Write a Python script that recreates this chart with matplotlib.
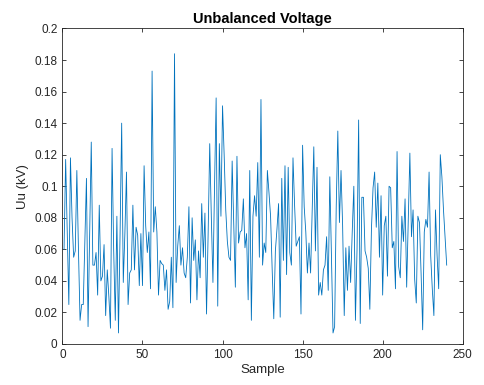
import numpy as np
import matplotlib
matplotlib.use("Agg")
import matplotlib.pyplot as plt

plt.rcParams['font.family'] = ['Liberation Sans', 'DejaVu Sans']

# Unbalanced voltage per sample (kV)
uu = [
    0.060, 0.117, 0.070, 0.025, 0.118, 0.080, 0.055, 0.059, 0.110, 0.060,
    0.015, 0.025, 0.025, 0.065, 0.105, 0.011, 0.070, 0.128, 0.050, 0.050,
    0.058, 0.031, 0.088, 0.040, 0.043, 0.063, 0.018, 0.047, 0.030, 0.010,
    0.124, 0.060, 0.015, 0.081, 0.007, 0.070, 0.140, 0.039, 0.070, 0.109,
    0.025, 0.045, 0.047, 0.088, 0.047, 0.074, 0.069, 0.037, 0.070, 0.037,
    0.113, 0.075, 0.058, 0.071, 0.035, 0.173, 0.071, 0.087, 0.071, 0.031,
    0.053, 0.051, 0.050, 0.034, 0.047, 0.022, 0.027, 0.055, 0.023, 0.184,
    0.039, 0.062, 0.075, 0.050, 0.061, 0.045, 0.042, 0.055, 0.087, 0.026,
    0.080, 0.053, 0.066, 0.028, 0.059, 0.042, 0.089, 0.055, 0.083, 0.019,
    0.070, 0.127, 0.080, 0.039, 0.100, 0.156, 0.024, 0.127, 0.081, 0.151,
    0.120, 0.085, 0.065, 0.055, 0.053, 0.116, 0.075, 0.036, 0.119, 0.064,
    0.071, 0.072, 0.092, 0.061, 0.070, 0.028, 0.110, 0.015, 0.081, 0.094,
    0.081, 0.115, 0.055, 0.155, 0.050, 0.064, 0.058, 0.110, 0.096, 0.081,
    0.047, 0.016, 0.059, 0.073, 0.089, 0.017, 0.105, 0.053, 0.113, 0.044,
    0.112, 0.058, 0.050, 0.118, 0.088, 0.062, 0.065, 0.068, 0.019, 0.126,
    0.087, 0.071, 0.045, 0.064, 0.045, 0.086, 0.125, 0.059, 0.112, 0.031,
    0.039, 0.031, 0.047, 0.050, 0.068, 0.034, 0.106, 0.058, 0.007, 0.011,
    0.087, 0.135, 0.077, 0.110, 0.075, 0.018, 0.061, 0.034, 0.062, 0.039,
    0.071, 0.100, 0.015, 0.060, 0.142, 0.013, 0.093, 0.093, 0.059, 0.055,
    0.048, 0.022, 0.073, 0.099, 0.109, 0.074, 0.102, 0.055, 0.094, 0.031,
    0.075, 0.081, 0.043, 0.100, 0.099, 0.061, 0.065, 0.035, 0.122, 0.049,
    0.042, 0.081, 0.065, 0.092, 0.036, 0.080, 0.121, 0.068, 0.085, 0.041,
    0.026, 0.081, 0.077, 0.045, 0.009, 0.071, 0.079, 0.074, 0.109, 0.056,
    0.035, 0.018, 0.085, 0.056, 0.035, 0.120, 0.106, 0.085, 0.068, 0.050,
]
sample = np.arange(1, len(uu) + 1)

x_ticks = [0, 50, 100, 150, 200, 250]
y_ticks = [0, 0.02, 0.04, 0.06, 0.08, 0.1, 0.12, 0.14, 0.16, 0.18, 0.2]
y_labels = ['0', '0.02', '0.04', '0.06', '0.08', '0.1', '0.12', '0.14',
            '0.16', '0.18', '0.2']

axis_grey = '#262626'

fig = plt.figure(figsize=(4.84, 3.85), dpi=100, facecolor='white')
ax = fig.add_axes([0.129, 0.1065, 0.827, 0.8195])

ax.plot(sample, uu, color='#0072BD', linewidth=0.6)

ax.set_xlim(0, 250)
ax.set_ylim(0, 0.2)
ax.set_xticks(x_ticks)
ax.set_yticks(y_ticks)
ax.set_yticklabels(y_labels)

ax.tick_params(direction='in', length=3, width=0.6, colors=axis_grey,
               labelsize=8.5, top=True, right=True)
for spine in ax.spines.values():
    spine.set_edgecolor(axis_grey)
    spine.set_linewidth(0.6)

ax.set_title('Unbalanced Voltage', fontsize=10.5, fontweight='bold', pad=4)
ax.set_xlabel('Sample', fontsize=9.5, color=axis_grey, labelpad=2)
ax.set_ylabel('Uu (kV)', fontsize=9.5, color=axis_grey, labelpad=4)

fig.savefig('out.png', dpi=100)
